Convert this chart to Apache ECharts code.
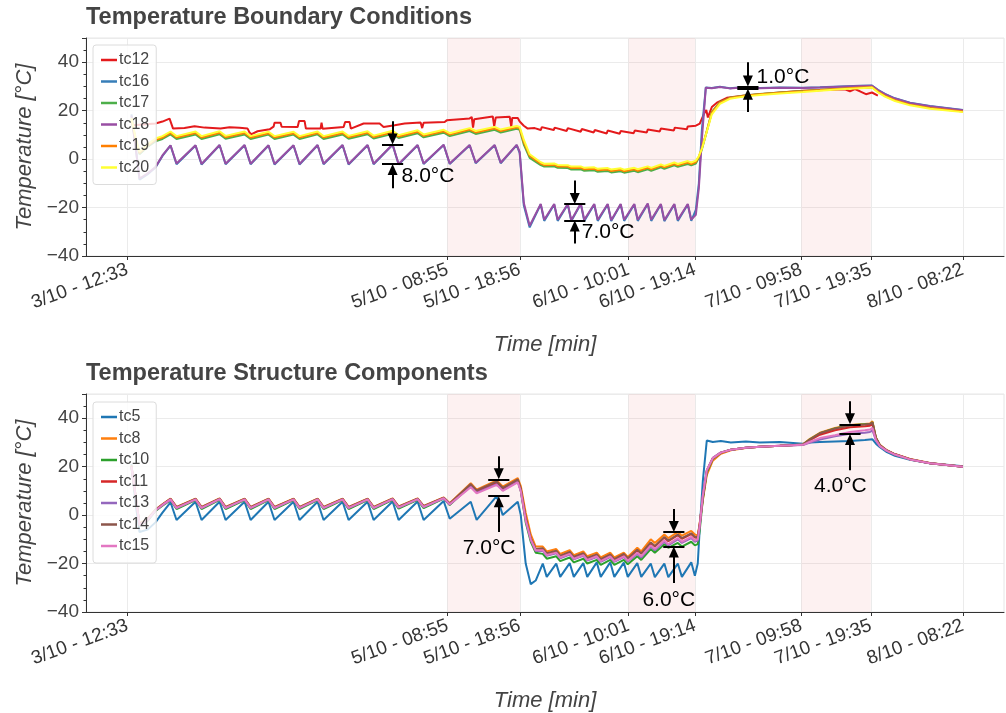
<!DOCTYPE html>
<html>
<head>
<meta charset="utf-8">
<title>Temperature</title>
<script src="https://cdn.jsdelivr.net/npm/echarts@6/dist/echarts.min.js"></script>
<style>
html, body { margin: 0; padding: 0; background: #fff; }
#main { width: 1006px; height: 713px; }
</style>
</head>
<body>
<div id="main"></div>
<script>
// x axis: minutes since 3/10 - 12:33
var tickMins = [0, 2662, 3263, 4168, 4721, 5605, 6182, 6949];
var tickLabels = ['3/10 - 12:33', '5/10 - 08:55', '5/10 - 18:56', '6/10 - 10:01', '6/10 - 19:14', '7/10 - 09:58', '7/10 - 19:35', '8/10 - 08:22'];
var shadedSpans = [[2662, 3263], [4168, 4721], [5605, 6182]];

// ---- Temperature Boundary Conditions ----
var topTime = [33, 67, 100, 166, 233, 291,
	358, 408, 566, 616, 766, 816, 974, 1024, 1173, 1223, 1381, 1431, 1581, 1631, 1789, 1839, 1997, 2047, 2205, 2255, 2413, 2463, 2630, 2680, 2846, 2896, 3054, 3104, 3237,
	3262, 3296, 3345,
	3437, 3466, 3549, 3578, 3662, 3691, 3770, 3799, 3882, 3911, 3994, 4023, 4102, 4131, 4215, 4244, 4327, 4356, 4436, 4465, 4548, 4577, 4660, 4689,
	4727, 4752, 4777, 4810, 4860, 4927, 5010, 5135, 5260, 5426, 5618, 5759, 5926, 6092, 6192, 6241, 6300, 6383, 6508, 6674, 6949];

var tc16 = [18.5, 5.5, -8.5, -6.3, -3.5, 1.3,
	5.6, -2.1, 5.6, -2.2, 5.7, -2.1, 5.7, -2.1, 5.6, -2.2, 5.6, -2.2, 5.7, -2.1, 5.7, -2.2, 5.7, -2.1, 5.9, -2.2, 5.7, -2, 5.8, -2, 5.7, -1.7, 5.7, -1.7, 5.8,
	2.5, -19, -28.2,
	-18.7, -25.5, -18.7, -25.5, -18.7, -25.6, -18.5, -25.5, -18.7, -25.5, -18.7, -25.6, -18.7, -25.5, -18.7, -25.5, -18.5, -25.5, -18.7, -25.6, -18.7, -25.5, -18.7, -25.5,
	-21, -10, 12, 29.6, 29.4, 29.9, 29.3, 29.8, 29.4, 29.6, 29.5, 29.7, 30, 30.3, 30.4, 28.6, 26.9, 25.1, 23.3, 21.9, 20.3];

var tc17 = [16, 8, 2, 5, 7.3, 8.3,
	10.2, 8.3, 10.2, 8.3, 10.3, 8.4, 10.2, 8.3, 10.1, 8.3, 10.1, 8.3, 10.2, 8.3, 10.2, 8.4, 10.3, 8.5, 10.5, 8.7, 10.7, 9.0, 10.9, 9.5, 11.6, 10.4, 12.1, 11.0, 12.5,
	12.1, 6, 0.5,
	-2.5, -3.1, -3.0, -3.6, -3.7, -4.3, -4.2, -4.8, -4.6, -5.2, -4.9, -5.5, -5.0, -5.6, -4.8, -5.4, -4.2, -4.8, -3.4, -4.0, -2.6, -3.2, -2.0, -2.6,
	-1.8, 0.5, 4, 10, 19.5, 23.5, 25.3, 26.3, 26.9, 27.5, 28.1, 28.6, 29.2, 29.7, 29.8, 28, 26.2, 24.4, 22.6, 21.2, 19.8];

var tc18 = [18, 5, -8, -6, -3.3, 1.5,
	5.7, -1.8, 5.7, -2, 5.8, -1.9, 5.8, -1.9, 5.7, -2, 5.7, -2, 5.8, -1.9, 5.8, -2, 5.8, -1.9, 6.0, -2, 5.8, -1.8, 5.9, -1.8, 5.8, -1.5, 5.8, -1.5, 5.9,
	3, -18, -27.5,
	-18.5, -25, -18.5, -25, -18.5, -25.2, -18.3, -25, -18.5, -25, -18.5, -25.2, -18.5, -25, -18.5, -25, -18.3, -25, -18.5, -25.2, -18.5, -25, -18.5, -25,
	-23, -12, 8, 29.5, 29.3, 29.8, 29.2, 29.7, 29.3, 29.5, 29.4, 29.6, 29.9, 30.2, 30.3, 28.5, 26.8, 25, 23.2, 21.8, 20.2];

var tc19 = [16.5, 8.5, 2.5, 5.5, 7.9, 8.9,
	10.8, 8.9, 10.8, 8.9, 10.9, 9.0, 10.8, 8.9, 10.7, 8.9, 10.7, 8.9, 10.8, 8.9, 10.8, 9.0, 10.9, 9.1, 11.1, 9.3, 11.3, 9.6, 11.5, 10.1, 12.2, 11.0, 12.7, 11.6, 13.1,
	12.7, 7, 1.3,
	-1.9, -2.5, -2.4, -3.0, -3.1, -3.7, -3.6, -4.2, -4.0, -4.6, -4.3, -4.9, -4.4, -5.0, -4.2, -4.8, -3.6, -4.2, -2.8, -3.4, -2.0, -2.6, -1.4, -2.0,
	-1.2, 1, 4.5, 10.2, 19.2, 23.3, 25.2, 26.2, 26.8, 27.4, 28, 28.5, 29.1, 29.6, 29.7, 27.9, 26.1, 24.3, 22.5, 21.1, 19.7];

var tc20 = [17, 9, 3, 6, 8.5, 9.5,
	11.4, 9.5, 11.4, 9.5, 11.5, 9.6, 11.4, 9.5, 11.3, 9.5, 11.3, 9.5, 11.4, 9.5, 11.4, 9.6, 11.5, 9.7, 11.7, 9.9, 11.9, 10.2, 12.1, 10.7, 12.8, 11.6, 13.3, 12.2, 13.7,
	13.3, 8, 2,
	-1.3, -1.9, -1.8, -2.4, -2.5, -3.1, -3.0, -3.6, -3.4, -4.0, -3.7, -4.3, -3.8, -4.4, -3.6, -4.2, -3.0, -3.6, -2.2, -2.8, -1.4, -2.0, -0.8, -1.4,
	-0.6, 1.2, 4.2, 10, 18.5, 22.8, 24.9, 25.9, 26.5, 27.1, 27.7, 28.2, 28.8, 29.3, 29.6, 27.6, 25.8, 24, 22.2, 20.8, 19.4];

// tc12 has its own irregular steps
var tc12Time = [42, 233, 291, 350, 366, 379, 474, 558, 641, 774,
	849, 932, 999, 1015, 1032, 1082, 1182, 1215, 1223, 1273,
	1282, 1415, 1427, 1473, 1484, 1606, 1614, 1623, 1798, 1810,
	1847, 1858, 1964, 2097, 2130, 2222, 2305, 2438, 2451, 2463,
	2638, 2655, 2846, 2863, 2874, 2884, 3038, 3050, 3063, 3179,
	3192, 3200, 3246, 3262, 3296, 3329, 3387, 3437, 3446, 3545,
	3553, 3653, 3662, 3770, 3778, 3878, 3886, 3986, 3994, 4094,
	4102, 4210, 4219, 4319, 4327, 4427, 4436, 4544, 4552, 4652,
	4660, 4727, 4760, 4793, 4814, 4827, 4860, 4902, 4985, 5135,
	5426, 5618, 5967, 6009, 6050, 6092, 6142, 6192, 6241];
var tc12 = [14.0, 14.7, 15.5, 16.7, 17.0, 12.6, 12.8, 13.6, 13.0, 12.6,
	13.2, 12.9, 12.6, 11.0, 10.3, 11.5, 12.3, 13.4, 15.0, 15.0,
	13.4, 13.3, 15.7, 15.7, 12.6, 12.6, 15.0, 12.5, 13.3, 15.3,
	15.3, 12.6, 14.7, 14.7, 13.3, 14.0, 14.7, 15.1, 12.8, 15.0,
	15.3, 16.0, 16.8, 17.4, 13.0, 16.5, 17.6, 13.5, 17.2, 17.5,
	13.3, 17.0, 17.0, 15.5, 13.8, 12.6, 12.8, 12.0, 13.2, 12.0,
	13.0, 11.6, 12.8, 11.3, 12.4, 11.0, 12.0, 10.6, 11.8, 10.5,
	11.6, 10.7, 11.8, 11.0, 12.2, 11.4, 12.6, 11.8, 13.0, 12.3,
	13.5, 13.8, 14.7, 18.5, 20.3, 17.2, 21.5, 23.3, 25.3, 26.3,
	27.5, 28.2, 28.8, 28.0, 28.9, 28.0, 26.8, 27.5, 26.2];

// ---- Temperature Structure Components ----
var botTime = [33, 67, 100, 166, 233, 291,
	358, 408, 566, 616, 766, 816, 974, 1024, 1173, 1223, 1381, 1431, 1581, 1631, 1789, 1839, 1997, 2047, 2205, 2255, 2413, 2463, 2630, 2680, 2855, 2904, 3071, 3121, 3246,
	3271, 3312, 3354, 3395,
	3454, 3487, 3566, 3599, 3678, 3712, 3791, 3824, 3903, 3936, 4015, 4049, 4128, 4161, 4240, 4273, 4352, 4386, 4465, 4498, 4577, 4611, 4689,
	4719, 4743, 4760, 4785, 4818, 4868, 4935, 5018, 5143, 5260, 5426, 5618, 5676, 5759, 5884, 6009, 6133, 6175, 6196, 6225, 6258, 6316, 6383, 6508, 6674, 6949];

var tc5 = [21, 5, -7, -6, -3, 1,
	5.3, -2.0, 5.5, -2, 5.5, -2, 5.5, -2, 5.5, -2, 5.5, -2, 5.5, -2, 5.5, -2, 5.5, -2, 5.6, -2, 5.6, -2, 5.8, -1.5, 5.5, -2, 7.8, 0, 5.5,
	0, -20, -28.5, -27,
	-20, -25.5, -20, -25.5, -19.8, -25.5, -19.8, -25.5, -19.5, -25.5, -19.5, -25.5, -19.6, -25.5, -19.8, -25.5, -20, -25.6, -20, -25.6, -20, -25.5, -19.5,
	-25, -20, -5, 14, 30.8, 30.2, 30.6, 30.0, 30.4, 30.0, 30.2, 29.5, 30.0, 30.2, 30.4, 30.6, 31.0, 31.2, 31.3, 29.5, 28, 26, 24.5, 22.8, 21.4, 20.2];

var tc8 = [20.5, 8.5, -3.5, -1.5, 2.3, 4.5,
	6.8, 3.4, 6.8, 3.4, 6.9, 3.4, 6.8, 3.4, 6.8, 3.4, 6.8, 3.4, 6.8, 3.4, 6.8, 3.4, 6.8, 3.4, 6.9, 3.6, 6.9, 3.8, 7.3, 4.9, 13.2, 10.5, 14.3, 11.8, 15.3,
	12, 1, -8, -13,
	-13, -15, -14, -16, -14.5, -16.5, -15, -17, -15.5, -17.5, -15.5, -17.5, -15.5, -17.3, -13.5, -15, -10, -11.5, -8, -9.5, -7, -8.5, -6.5,
	-8, -8.5, -3, 6, 16.5, 22.5, 25.3, 26.8, 27.7, 28.2, 28.6, 29.2, 31.5, 34, 36, 37.2, 37.6, 37.8, 38.8, 32, 29, 26.8, 25.2, 23.2, 21.5, 20];

var tc10 = [19.5, 7.5, -4.5, -2.5, 1.7, 3.9,
	6.2, 2.5, 6.2, 2.5, 6.3, 2.5, 6.2, 2.5, 6.2, 2.5, 6.2, 2.5, 6.2, 2.5, 6.2, 2.5, 6.2, 2.5, 6.3, 2.7, 6.3, 2.9, 6.8, 4.2, 12.3, 9.4, 13.4, 10.4, 14.4,
	10, -3, -11, -15.5,
	-16, -18, -17, -19, -17.5, -19.5, -18, -20, -18.5, -20.5, -18.5, -20.5, -18.5, -20.3, -17, -18.5, -14, -15.5, -12, -13.5, -11.5, -13, -11,
	-12.5, -12, -6, 6.5, 17.5, 23.2, 25.8, 27, 27.8, 28.2, 28.6, 29.1, 31.3, 33.8, 35.8, 37.1, 37.5, 37.6, 38.3, 31.8, 28.8, 26.6, 25, 23, 21.4, 20];

var tc11 = [20, 8, -4, -2, 2.1, 4.3,
	6.6, 3.1, 6.6, 3.1, 6.7, 3.1, 6.6, 3.1, 6.6, 3.1, 6.6, 3.1, 6.6, 3.1, 6.6, 3.1, 6.6, 3.1, 6.7, 3.3, 6.7, 3.5, 7.1, 4.6, 12.2, 9.8, 13.5, 10.8, 14.3,
	10.5, -1.5, -10, -14.5,
	-14.2, -16.2, -15.2, -17.2, -15.7, -17.7, -16.2, -18.2, -16.7, -18.7, -16.7, -18.7, -16.5, -18.3, -14.5, -16, -11.5, -13, -9.3, -10.8, -8.3, -9.8, -7.8,
	-9.3, -9.5, -3.5, 7.5, 18.3, 23.5, 25.8, 27, 27.8, 28.2, 28.6, 29, 31, 33.2, 35, 36.3, 36.7, 36.9, 37.5, 31.5, 28.7, 26.6, 25.1, 23.1, 21.4, 20];

var tc13 = [19.8, 7.8, -4.2, -2.2, 1.9, 4.1,
	6.4, 2.9, 6.4, 2.9, 6.5, 2.9, 6.4, 2.9, 6.4, 2.9, 6.4, 2.9, 6.4, 2.9, 6.4, 2.9, 6.4, 2.9, 6.5, 3.1, 6.5, 3.3, 6.9, 4.4, 11.8, 9.3, 12.8, 10.2, 13.8,
	10, -2.2, -10.3, -14.8,
	-14.8, -16.8, -15.8, -17.8, -16.3, -18.3, -16.8, -18.8, -17.3, -19.3, -17.3, -19.3, -17.3, -19.1, -16, -17.5, -13, -14.5, -11, -12.5, -10, -11.5, -9.5,
	-11, -10.5, -4.5, 8, 18.5, 23.6, 25.9, 27, 27.8, 28.2, 28.6, 28.9, 30, 31.2, 32.5, 33.6, 34, 34.3, 35, 30.8, 28.5, 26.5, 25, 23, 21.4, 20];

var tc14 = [20.2, 8.2, -3.8, -1.8, 2.2, 4.4,
	6.7, 3.3, 6.7, 3.3, 6.8, 3.3, 6.7, 3.3, 6.7, 3.3, 6.7, 3.3, 6.7, 3.3, 6.7, 3.3, 6.7, 3.3, 6.8, 3.5, 6.8, 3.7, 7.2, 4.8, 12.8, 10.2, 13.9, 11.2, 14.8,
	11, -1, -9.5, -14,
	-13.7, -15.7, -14.7, -16.7, -15.2, -17.2, -15.7, -17.7, -16.2, -18.2, -16.2, -18.2, -16, -17.8, -14.3, -15.8, -11.3, -12.8, -9, -10.5, -8, -9.5, -7.5,
	-9, -9, -3.5, 7, 18, 23.3, 25.7, 27, 27.8, 28.2, 28.6, 29.1, 31.2, 33.8, 35.7, 37, 37.4, 37.6, 38.2, 31.8, 28.8, 26.7, 25.1, 23.1, 21.4, 20];

var tc15 = [20, 8, -4, -2, 2, 4.2,
	6.5, 3.0, 6.5, 3.0, 6.6, 3.0, 6.5, 3.0, 6.5, 3.0, 6.5, 3.0, 6.5, 3.0, 6.5, 3.0, 6.5, 3.0, 6.6, 3.2, 6.6, 3.4, 7.0, 4.5, 11.5, 9.0, 12.5, 10.0, 13.5,
	10, -2, -10, -14.5,
	-14.5, -16.5, -15.5, -17.5, -16, -18, -16.5, -18.5, -17, -19, -17, -19, -17, -18.8, -15.5, -17, -12.5, -14, -10.5, -12, -9.5, -11, -9,
	-10.5, -10, -4, 8, 18.5, 23.5, 25.8, 27, 27.8, 28.2, 28.6, 29, 30.3, 31.8, 33, 34.3, 35, 35.3, 36, 31, 28.5, 26.5, 25, 23, 21.4, 20];

// spread markers: time, upper level, lower level, text
var topSpreadTime = [2205, 3720, 5160];
var topSpreadHigh = [6, -18.5, 30];
var topSpreadLow = [-2, -25.3, 29];
var topSpreadText = ['8.0°C', '7.0°C', '1.0°C'];
var botSpreadTime = [3088, 4544, 6009];
var botSpreadHigh = [14.8, -7, 37.5];
var botSpreadLow = [7.8, -13, 33.5];
var botSpreadText = ['7.0°C', '6.0°C', '4.0°C'];

var FONT = '"Liberation Sans", Arial, Helvetica, sans-serif';

var tempChart = {

	pairs : function(ts, vs) {
		var out = [];
		for (var i = 0; i < ts.length; i++) {
			out.push([ts[i], vs[i]]);
		}
		return out;
	},

	tickText : function(v) {
		for (var i = 0; i < tickMins.length; i++) {
			if (Math.abs(tickMins[i] - v) < 0.5) return tickLabels[i];
		}
		return '';
	},

	xAxis : function(gi) {
		return {
			type: 'value', gridIndex: gi, min: -345, max: 7290,
			name: 'Time [min]', nameLocation: 'middle', nameGap: 78,
			nameTextStyle: { fontSize: 22, fontStyle: 'italic', color: '#444', fontFamily: FONT },
			axisLine: { onZero: false, lineStyle: { color: '#333', width: 1 } },
			axisTick: { show: true, customValues: tickMins, length: 4, lineStyle: { color: '#333' } },
			axisLabel: {
				customValues: tickMins, rotate: 20, margin: 13,
				fontSize: 19, color: '#333', fontFamily: FONT,
				formatter: function(v) { return tempChart.tickText(v); }
			},
			splitLine: { show: true, lineStyle: { color: '#ebebeb', width: 1 } }
		};
	},

	yAxis : function(gi) {
		return {
			type: 'value', gridIndex: gi, min: -40, max: 50, interval: 20,
			name: 'Temperature [°C]', nameLocation: 'middle', nameGap: 45,
			nameTextStyle: { fontSize: 22, fontStyle: 'italic', color: '#444', fontFamily: FONT },
			axisLine: { show: true, onZero: false, lineStyle: { color: '#333', width: 1 } },
			axisTick: { show: true, length: 4, lineStyle: { color: '#333' } },
			minorTick: { show: true, splitNumber: 4, length: 2.5, lineStyle: { color: '#333' } },
			axisLabel: {
				fontSize: 19, color: '#444', fontFamily: FONT, margin: 7, showMaxLabel: false,
				formatter: function(v) {
					if (v > 40) return '';
					return v < 0 ? '\u2212' + (-v) : String(v);
				}
			},
			splitLine: { show: true, lineStyle: { color: '#ebebeb', width: 1 } }
		};
	},

	legend : function(names, top) {
		return {
			data: names, orient: 'vertical', left: 93, top: top,
			padding: [7, 7, 9, 8], itemGap: 5.5, itemWidth: 16, itemHeight: 2.5, icon: 'rect',
			backgroundColor: 'rgba(255,255,255,0.82)', borderColor: '#dcdcdc', borderWidth: 1, borderRadius: 3,
			textStyle: { fontSize: 16, color: '#444', fontFamily: FONT, lineHeight: 16, padding: [0, 0, 0, -3] },
			selectedMode: false, z: 10
		};
	},

	line : function(name, gi, ts, vs, color) {
		return {
			name: name, type: 'line', xAxisIndex: gi, yAxisIndex: gi,
			data: tempChart.pairs(ts, vs), showSymbol: false, symbol: 'none',
			lineStyle: { color: color, width: 2 }, itemStyle: { color: color },
			silent: true, z: 3
		};
	},

	shade : function(gi) {
		return {
			name: 'shade' + gi, type: 'line', xAxisIndex: gi, yAxisIndex: gi, data: [], z: 1, silent: true,
			markArea: {
				silent: true,
				itemStyle: { color: 'rgba(235, 120, 120, 0.1)' },
				data: shadedSpans.map(function(s) { return [{ xAxis: s[0] }, { xAxis: s[1] }]; })
			}
		};
	},

	// vertical arrows pointing at the two levels, short bars at the levels and the text
	spread : function(gi, times, highs, lows, texts, layout) {
		var head = 5.5 / 2.42;   // half arrow head, in degrees
		var half = 88;           // half bar width, in minutes
		var lines = [], points = [];
		for (var i = 0; i < times.length; i++) {
			var t = times[i], L = layout[i];
			lines.push([{ coord: [t, highs[i] + L.up], symbol: 'none' }, { coord: [t, highs[i] + head], symbol: 'triangle', symbolSize: [10, 11] }]);
			lines.push([{ coord: [t, lows[i] - L.down], symbol: 'none' }, { coord: [t, lows[i] - head], symbol: 'triangle', symbolSize: [10, 11] }]);
			lines.push([{ coord: [t - half, highs[i]], symbol: 'none' }, { coord: [t + half, highs[i]], symbol: 'none' }]);
			lines.push([{ coord: [t - half, lows[i]], symbol: 'none' }, { coord: [t + half, lows[i]], symbol: 'none' }]);
			points.push({
				coord: [t + L.dt, lows[i] - L.dv], symbol: 'circle', symbolSize: 0,
				label: { show: true, formatter: texts[i], position: L.pos, distance: 0, fontSize: 21, color: '#000', fontFamily: FONT }
			});
		}
		return {
			name: 'spread' + gi, type: 'line', xAxisIndex: gi, yAxisIndex: gi, data: [], z: 6, silent: true,
			markLine: { silent: true, symbol: ['none', 'none'], lineStyle: { color: '#000', width: 2, type: 'solid' }, label: { show: false }, data: lines },
			markPoint: { silent: true, data: points }
		};
	},

	show : function() {
		var myChart = echarts.init(document.getElementById('main'), null, { renderer: 'canvas' });
		var option = {
			backgroundColor: '#fff',
			animation: false,
			title: [
				{ text: 'Temperature Boundary Conditions', left: 86, top: 6, padding: 0, textStyle: { fontSize: 23.5, fontWeight: 'bold', color: '#444', fontFamily: FONT } },
				{ text: 'Temperature Structure Components', left: 86, top: 362, padding: 0, textStyle: { fontSize: 23.5, fontWeight: 'bold', color: '#444', fontFamily: FONT } }
			],
			legend: [
				tempChart.legend(['tc12', 'tc16', 'tc17', 'tc18', 'tc19', 'tc20'], 45),
				tempChart.legend(['tc5', 'tc8', 'tc10', 'tc11', 'tc13', 'tc14', 'tc15'], 402)
			],
			grid: [
				{ left: 86, right: 2, top: 38, height: 218, show: true, borderColor: '#e6e6e6', borderWidth: 1, backgroundColor: 'transparent' },
				{ left: 86, right: 2, top: 394, height: 218, show: true, borderColor: '#e6e6e6', borderWidth: 1, backgroundColor: 'transparent' }
			],
			xAxis: [tempChart.xAxis(0), tempChart.xAxis(1)],
			yAxis: [tempChart.yAxis(0), tempChart.yAxis(1)],
			series: [
				tempChart.shade(0),
				tempChart.line('tc12', 0, tc12Time, tc12, '#e41a1c'),
				tempChart.line('tc16', 0, topTime, tc16, '#377eb8'),
				tempChart.line('tc17', 0, topTime, tc17, '#4daf4a'),
				tempChart.line('tc18', 0, topTime, tc18, '#984ea3'),
				tempChart.line('tc19', 0, topTime, tc19, '#ff7f00'),
				tempChart.line('tc20', 0, topTime, tc20, '#ffff33'),
				tempChart.spread(0, topSpreadTime, topSpreadHigh, topSpreadLow, topSpreadText, [
					{ up: 9.6, down: 10, dt: 75, dv: 5.1, pos: 'right' },
					{ up: 9.7, down: 9.5, dt: 58, dv: 4.9, pos: 'right' },
					{ up: 10, down: 9.5, dt: 72, dv: -4.7, pos: 'right' }
				]),
				tempChart.shade(1),
				tempChart.line('tc5', 1, botTime, tc5, '#1f77b4'),
				tempChart.line('tc8', 1, botTime, tc8, '#ff7f0e'),
				tempChart.line('tc10', 1, botTime, tc10, '#2ca02c'),
				tempChart.line('tc11', 1, botTime, tc11, '#d62728'),
				tempChart.line('tc13', 1, botTime, tc13, '#9467bd'),
				tempChart.line('tc14', 1, botTime, tc14, '#8c564b'),
				tempChart.line('tc15', 1, botTime, tc15, '#e377c2'),
				tempChart.spread(1, botSpreadTime, botSpreadHigh, botSpreadLow, botSpreadText, [
					{ up: 9.5, down: 14.8, dt: -80, dv: 21.3, pos: 'inside' },
					{ up: 9.5, down: 15, dt: -42, dv: 22, pos: 'inside' },
					{ up: 9.5, down: 15, dt: -80, dv: 21.5, pos: 'inside' }
				])
			]
		};
		// 显示图表
		myChart.setOption(option);
	}
};

tempChart.show();
</script>
</body>
</html>
